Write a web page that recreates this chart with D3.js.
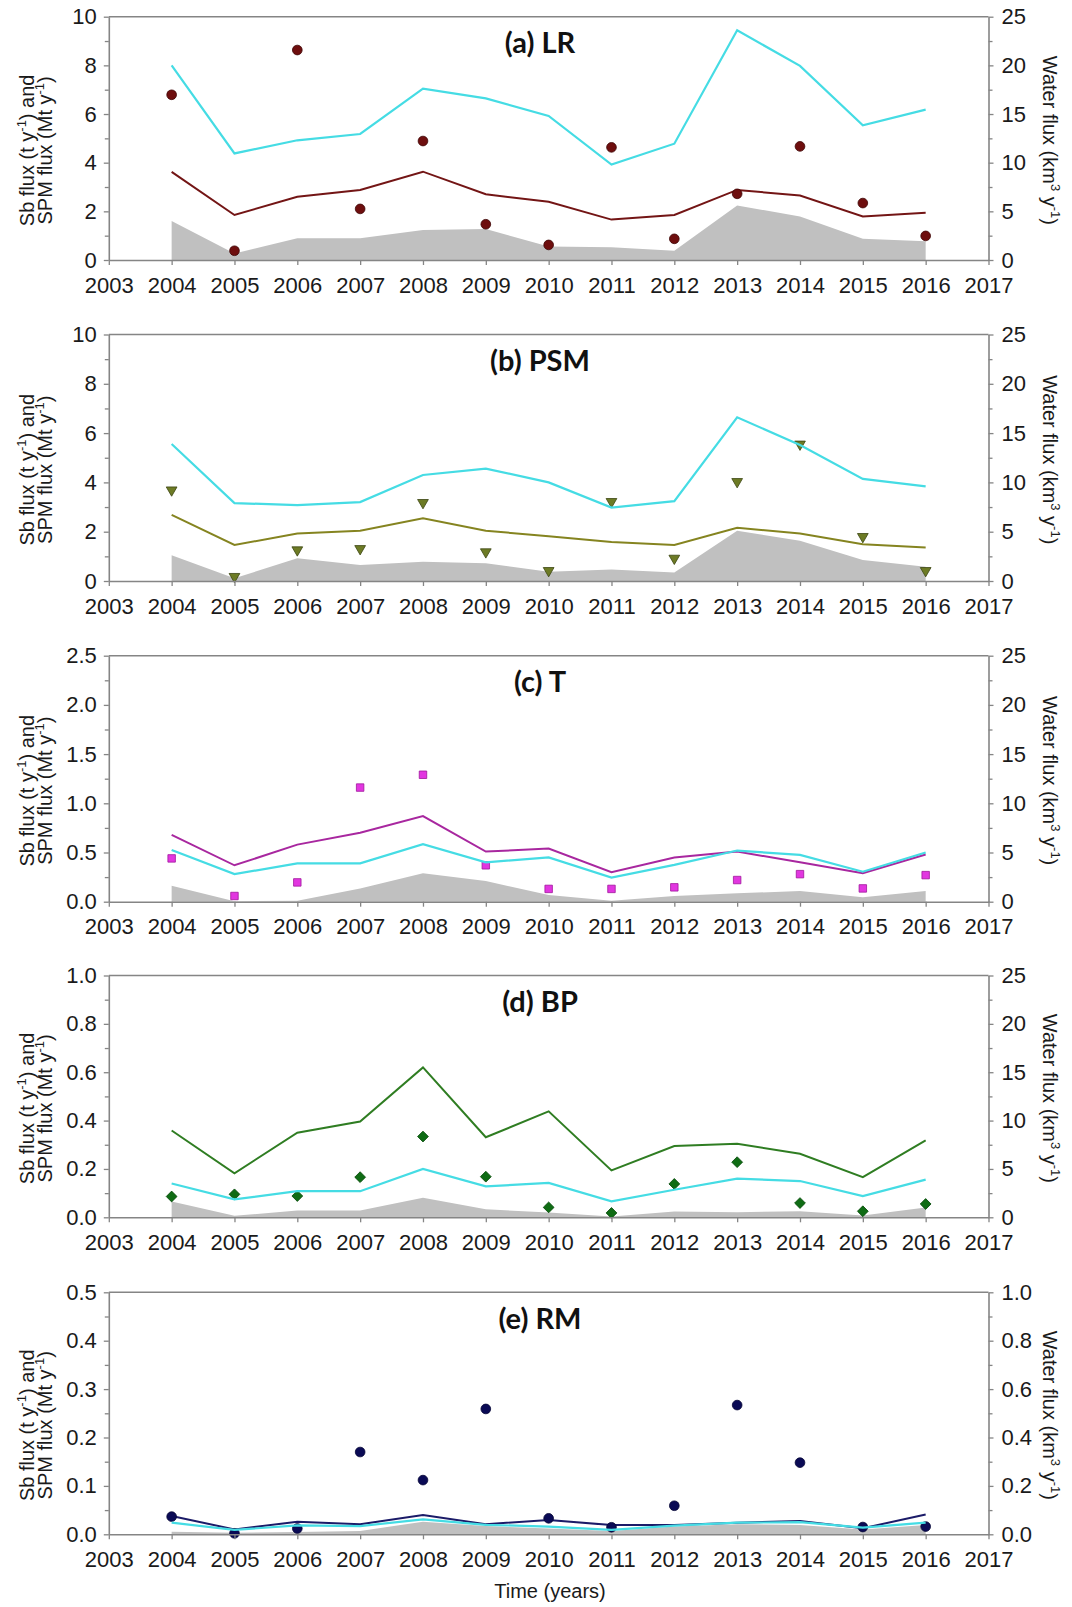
<!DOCTYPE html>
<html>
<head>
<meta charset="utf-8">
<script src="https://cdn.jsdelivr.net/npm/d3@7"></script>
<style>
  body { margin: 0; background: #fff; }
  svg { display: block; }
</style>
</head>
<body>
<svg id="chart" width="1072" height="1607"></svg>
<script>
// ---- data -------------------------------------------------------------
const years = [2004, 2005, 2006, 2007, 2008, 2009, 2010, 2011, 2012, 2013, 2014, 2015, 2016];
const xTickYears = [2003, 2004, 2005, 2006, 2007, 2008, 2009, 2010, 2011, 2012, 2013, 2014, 2015, 2016, 2017];
const panelTitles = ["(a) LR", "(b) PSM", "(c) T", "(d) BP", "(e) RM"];

// water flux (km3/y, right axis)
const waterLR  = [20.0, 10.95, 12.3, 12.95, 17.6, 16.6, 14.8, 9.8, 11.95, 23.6, 19.95, 13.85, 15.45];
const waterPSM = [13.9, 7.9, 7.7, 8.0, 10.75, 11.4, 10.0, 7.45, 8.1, 16.6, 13.8, 10.35, 9.6];
const waterT   = [5.25, 2.8, 3.9, 3.9, 5.85, 4.0, 4.5, 2.45, 3.75, 5.2, 4.75, 3.05, 5.0];
const waterBP  = [3.5, 1.85, 2.7, 2.7, 5.0, 3.2, 3.55, 1.65, 2.85, 4.0, 3.75, 2.2, 3.9];
const waterRM  = [0.048, 0.018, 0.037, 0.034, 0.062, 0.039, 0.032, 0.018, 0.036, 0.048, 0.05, 0.028, 0.048];

// Sb flux, continuous estimate (t/y, left axis)
const sbLineLR  = [3.62, 1.85, 2.6, 2.88, 3.63, 2.7, 2.39, 1.66, 1.85, 2.88, 2.65, 1.79, 1.94];
const sbLinePSM = [2.68, 1.46, 1.93, 2.04, 2.54, 2.04, 1.82, 1.58, 1.46, 2.16, 1.93, 1.49, 1.36];
const sbLineT   = [0.68, 0.37, 0.58, 0.70, 0.87, 0.51, 0.54, 0.30, 0.45, 0.51, 0.40, 0.29, 0.48];
const sbLineBP  = [0.359, 0.182, 0.35, 0.396, 0.62, 0.331, 0.438, 0.194, 0.295, 0.304, 0.263, 0.166, 0.318];
const sbLineRM  = [0.038, 0.010, 0.026, 0.021, 0.040, 0.021, 0.0296, 0.019, 0.019, 0.024, 0.0275, 0.0124, 0.041];

// Sb flux, annual points (t/y, left axis)
const sbPtsLR  = [6.79, 0.38, 8.63, 2.1, 4.89, 1.47, 0.62, 4.63, 0.87, 2.72, 4.67, 2.34, 0.99];
const sbPtsPSM = [3.69, 0.18, 1.26, 1.31, 3.18, 1.18, 0.42, 3.22, 0.92, 4.03, 5.55, 1.8, 0.42];
const sbPtsT   = [0.44, 0.058, 0.196, 1.16, 1.29, 0.37, 0.13, 0.13, 0.146, 0.22, 0.28, 0.135, 0.27];
const sbPtsBP  = [0.086, 0.095, 0.088, 0.166, 0.334, 0.168, 0.041, 0.018, 0.138, 0.228, 0.059, 0.025, 0.055];
const sbPtsRM  = [0.0365, 0.002, 0.012, 0.170, 0.112, 0.259, 0.033, 0.0145, 0.059, 0.267, 0.148, 0.015, 0.016];

// SPM flux (Mt/y, left axis)
const spmLR  = [1.6, 0.27, 0.89, 0.89, 1.23, 1.27, 0.55, 0.52, 0.38, 2.24, 1.79, 0.87, 0.77];
const spmPSM = [1.04, 0.11, 0.92, 0.65, 0.78, 0.72, 0.38, 0.47, 0.34, 2.04, 1.63, 0.85, 0.58];
const spmT   = [0.163, 0.005, 0.01, 0.135, 0.29, 0.21, 0.068, 0.01, 0.058, 0.085, 0.108, 0.044, 0.11];
const spmBP  = [0.065, 0.006, 0.028, 0.028, 0.081, 0.033, 0.02, 0.003, 0.024, 0.021, 0.025, 0.007, 0.041];
const spmRM  = [0.0055, 0.003, 0.005, 0.007, 0.026, 0.017, 0.012, 0.007, 0.016, 0.021, 0.019, 0.010, 0.019];

// axis extents
const leftMax  = [10, 10, 2.5, 1.0, 0.5];
const leftStep = [2, 2, 0.5, 0.2, 0.1];
const rightMax  = [25, 25, 25, 25, 1.0];
const rightStep = [5, 5, 5, 5, 0.2];

// ---- panel definitions ---------------------------------------------------
const panels = [
  { water: waterLR,  line: sbLineLR,  pts: sbPtsLR,  spm: spmLR,  lineColor: "#731515", fill: "#6e0e0e", stroke: "#3d0505", marker: "circle" },
  { water: waterPSM, line: sbLinePSM, pts: sbPtsPSM, spm: spmPSM, lineColor: "#858420", fill: "#6d7b25", stroke: "#3a4410", marker: "triangle" },
  { water: waterT,   line: sbLineT,   pts: sbPtsT,   spm: spmT,   lineColor: "#a8279f", fill: "#e236e0", stroke: "#a0179c", marker: "square" },
  { water: waterBP,  line: sbLineBP,  pts: sbPtsBP,  spm: spmBP,  lineColor: "#2f7d22", fill: "#0f6c14", stroke: "#064a0a", marker: "diamond" },
  { water: waterRM,  line: sbLineRM,  pts: sbPtsRM,  spm: spmRM,  lineColor: "#1b1b68", fill: "#0a0a55", stroke: "#050535", marker: "circle" }
];

// ---- layout --------------------------------------------------------------
const X0 = 108.8, X1 = 988.5;
const tops    = [16.7, 334.5, 655.7, 975.5, 1292.3];
const bottoms = [260, 581, 901.7, 1217.3, 1534.3];
const frameColor = "#858585";
const cyan = "#45dce4";
const fontArial = "'Liberation Sans', Arial, sans-serif";

const svg = d3.select("#chart");
const x = d3.scaleLinear().domain([2003, 2017]).range([X0, X1]);

function fmtFor(step) {
  return step >= 1 ? d3.format("d") : d3.format(".1f");
}
function ticksFor(max, step) {
  const n = Math.round(max / step);
  return d3.range(n + 1).map(k => +(k * step).toFixed(4));
}
function minorFor(max, step) {
  const n = Math.round(max / step);
  return d3.range(n).map(k => +((k + 0.5) * step).toFixed(4));
}

// text with superscript pieces: parts = [[text, isSup], ...]
function richText(sel, parts, size, supSize) {
  parts.forEach(([t, sup], k) => {
    const prevSup = k > 0 && parts[k - 1][1];
    const ts = sel.append("tspan").text(t);
    if (sup) ts.attr("font-size", supSize).attr("dy", -size * 0.42);
    else {
      ts.attr("font-size", size);
      if (prevSup) ts.attr("dy", size * 0.42);
    }
  });
}

const markerSymbol = {
  circle:   { type: d3.symbolCircle,   size: 74, rot: 0 },
  triangle: { type: d3.symbolTriangle, size: 50, rot: 180 },
  square:   { type: d3.symbolSquare,   size: 56, rot: 0 },
  diamond:  { type: d3.symbolSquare,   size: 58, rot: 45 }
};

panels.forEach((p, i) => {
  const top = tops[i], bot = bottoms[i];
  const yL = d3.scaleLinear().domain([0, leftMax[i]]).range([bot, top]);
  const yR = d3.scaleLinear().domain([0, rightMax[i]]).range([bot, top]);
  const g = svg.append("g");

  // SPM flux as grey area
  g.append("path")
    .datum(years.map((yr, k) => [yr, p.spm[k]]))
    .attr("fill", "#c0c0c0")
    .attr("d", d3.area().x(d => x(d[0])).y0(yL(0)).y1(d => yL(d[1])));

  // Sb flux line
  g.append("path")
    .datum(years.map((yr, k) => [yr, p.line[k]]))
    .attr("fill", "none")
    .attr("stroke", p.lineColor)
    .attr("stroke-width", 2)
    .attr("d", d3.line().x(d => x(d[0])).y(d => yL(d[1])));

  // Sb flux points
  const ms = markerSymbol[p.marker];
  g.selectAll("path.pt")
    .data(years.map((yr, k) => [yr, p.pts[k]]))
    .join("path")
    .attr("class", "pt")
    .attr("d", d3.symbol().type(ms.type).size(ms.size))
    .attr("transform", d => `translate(${x(d[0])},${yL(d[1])}) rotate(${ms.rot})`)
    .attr("fill", p.fill)
    .attr("stroke", p.stroke)
    .attr("stroke-width", 0.8);

  // water flux line (right axis)
  g.append("path")
    .datum(years.map((yr, k) => [yr, p.water[k]]))
    .attr("fill", "none")
    .attr("stroke", cyan)
    .attr("stroke-width", 2.2)
    .attr("d", d3.line().x(d => x(d[0])).y(d => yR(d[1])));

  // top frame line
  g.append("line")
    .attr("x1", X0).attr("x2", X1).attr("y1", top).attr("y2", top)
    .attr("stroke", frameColor).attr("stroke-width", 1.6);

  // left axis
  g.append("g").attr("transform", `translate(${X0},0)`)
    .call(d3.axisLeft(yL).tickValues(ticksFor(leftMax[i], leftStep[i]))
      .tickFormat(fmtFor(leftStep[i])).tickSize(5).tickPadding(7).tickSizeOuter(0));
  g.append("g").attr("transform", `translate(${X0},0)`)
    .call(d3.axisLeft(yL).tickValues(minorFor(leftMax[i], leftStep[i]))
      .tickFormat("").tickSize(4).tickSizeOuter(0))
    .select(".domain").remove();

  // right axis
  g.append("g").attr("transform", `translate(${X1},0)`)
    .call(d3.axisRight(yR).tickValues(ticksFor(rightMax[i], rightStep[i]))
      .tickFormat(fmtFor(rightStep[i])).tickSize(5).tickPadding(8).tickSizeOuter(0));
  g.append("g").attr("transform", `translate(${X1},0)`)
    .call(d3.axisRight(yR).tickValues(minorFor(rightMax[i], rightStep[i]))
      .tickFormat("").tickSize(4).tickSizeOuter(0))
    .select(".domain").remove();

  // bottom axis
  g.append("g").attr("transform", `translate(0,${bot})`)
    .call(d3.axisBottom(x).tickValues(xTickYears).tickFormat(d3.format("d"))
      .tickSize(5).tickPadding(12).tickSizeOuter(0));

  g.selectAll(".domain").attr("stroke", frameColor).attr("stroke-width", 1.6);
  g.selectAll(".tick line").attr("stroke", frameColor).attr("stroke-width", 1.3);
  g.selectAll(".tick text").attr("font-size", 22).attr("font-family", fontArial).attr("fill", "#1a1a1a");

  // panel title
  g.append("text")
    .attr("x", 540).attr("y", top + 36.5)
    .attr("text-anchor", "middle")
    .attr("font-family", "Lato, 'Open Sans', sans-serif")
    .attr("font-weight", "bold")
    .attr("font-size", 29)
    .attr("fill", "#111")
    .text(panelTitles[i]);

  // left axis title (two lines)
  const cy = (top + bot) / 2 + 12;
  const l1 = g.append("text")
    .attr("transform", `translate(34.4,${cy}) rotate(-90)`)
    .attr("text-anchor", "middle").attr("font-family", fontArial).attr("fill", "#1a1a1a");
  richText(l1, [["Sb flux (t y", false], ["-1", true], [") and", false]], 20, 13);
  const l2 = g.append("text")
    .attr("transform", `translate(52,${cy}) rotate(-90)`)
    .attr("text-anchor", "middle").attr("font-family", fontArial).attr("fill", "#1a1a1a");
  richText(l2, [["SPM flux (Mt y", false], ["-1", true], [")", false]], 20, 13);

  // right axis title
  const r1 = g.append("text")
    .attr("transform", `translate(1043,${(top + bot) / 2 + 2}) rotate(90)`)
    .attr("text-anchor", "middle").attr("font-family", fontArial).attr("fill", "#1a1a1a");
  richText(r1, [["Water flux (km", false], ["3", true], [" y", false], ["-1", true], [")", false]], 20, 13);
});

// x axis title
svg.append("text")
  .attr("x", 550).attr("y", 1598)
  .attr("text-anchor", "middle")
  .attr("font-family", fontArial)
  .attr("font-size", 20)
  .attr("fill", "#1a1a1a")
  .text("Time (years)");
</script>
</body>
</html>
